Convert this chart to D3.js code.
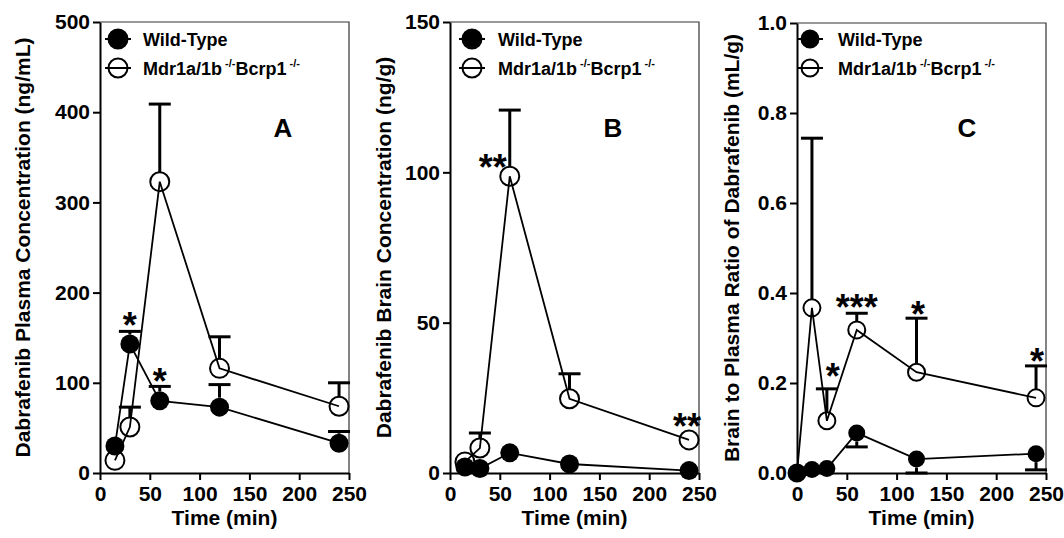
<!DOCTYPE html>
<html>
<head>
  <meta charset="utf-8">
  <title>Dabrafenib PK</title>
  <script src="https://d3js.org/d3.v7.min.js"></script>
  <style>
    body { margin: 0; background: #fff; }
    svg text { font-family: "Liberation Sans", Arial, sans-serif; font-weight: bold; fill: #000; }
    .axis path, .axis line { stroke: #000; stroke-width: 2px; }
    .axis text { font-size: 21px; }
    .frame { fill: none; stroke: #333; stroke-width: 1.2px; }
    .conn { fill: none; stroke: #000; stroke-width: 1.8px; }
    .err { stroke: #000; stroke-width: 3px; }
  </style>
</head>
<body>
  <svg width="1064" height="538"></svg>
  <script>
    // Times (min)
    const timesAB = [15, 30, 60, 120, 240];
    const timesC = [0, 15, 30, 60, 120, 240];

    // Panel A: plasma concentration (ng/mL)
    const plasmaWT = [30, 143, 80, 73, 33];
    const plasmaWTErr = [5, 14, 16, 25, 13];
    const plasmaKO = [14, 51, 323, 116, 74];
    const plasmaKOErr = [3, 22, 86, 35, 26];

    // Panel B: brain concentration (ng/g)
    const brainWT = [2, 1.5, 6.7, 3, 0.8];
    const brainWTErr = [0.5, 0.5, 1, 0.5, 0.3];
    const brainKO = [3.7, 8.3, 98.7, 24.7, 11];
    const brainKOErr = [1, 5, 22, 8.3, 2];

    // Panel C: brain to plasma ratio (mL/g)
    const ratioWT = [0, 0.008, 0.01, 0.089, 0.031, 0.043];
    const ratioWTErr = [0, 0.002, 0.003, 0.031, 0.031, 0.036];
    const ratioKO = [0, 0.367, 0.116, 0.318, 0.224, 0.167];
    const ratioKOErr = [0, 0.377, 0.071, 0.037, 0.12, 0.071];

    const xTicks = [0, 50, 100, 150, 200, 250];
    const legendLabels = ["Wild-Type", "Mdr1a/1b", "Bcrp1", "-/-"];

    // significance marks: [time, value, text]
    const starsA = [[30, 168, "*"], [60, 106, "*"]];
    const starsB = [[43, 103, "**"], [238, 17, "**"]];
    const starsC = [[36, 0.224, "*"], [60, 0.378, "***"], [121.5, 0.362, "*"], [241, 0.258, "*"]];

    const svg = d3.select("svg");

    const panels = [
      {left: 100, right: 349, top: 22, bottom: 473, yMax: 500, yTicks: [0, 100, 200, 300, 400, 500], fmt: d3.format("d"),
       times: timesAB, wt: plasmaWT, wtErr: plasmaWTErr, ko: plasmaKO, koErr: plasmaKOErr, wtDown: false,
       title: "Dabrafenib Plasma Concentration (ng/mL)", titleX: 22, letter: "A", letterX: 183,
       legX: 18, legTextX: 43, r: 9.5, stars: starsA},
      {left: 450, right: 699, top: 22, bottom: 473, yMax: 150, yTicks: [0, 50, 100, 150], fmt: d3.format("d"),
       times: timesAB, wt: brainWT, wtErr: brainWTErr, ko: brainKO, koErr: brainKOErr, wtDown: false,
       title: "Dabrafenib Brain Concentration (ng/g)", titleX: 383, letter: "B", letterX: 163,
       legX: 22, legTextX: 48, r: 9.5, stars: starsB},
      {left: 797, right: 1046, top: 23, bottom: 473, yMax: 1.0, yTicks: [0, 0.2, 0.4, 0.6, 0.8, 1.0], fmt: d3.format(".1f"),
       times: timesC, wt: ratioWT, wtErr: ratioWTErr, ko: ratioKO, koErr: ratioKOErr, wtDown: true,
       title: "Brain to Plasma Ratio of Dabrafenib (mL/g)", titleX: 731, letter: "C", letterX: 170,
       legX: 13, legTextX: 41, r: 8.5, stars: starsC}
    ];

    panels.forEach(p => {
      const x = d3.scaleLinear().domain([0, 250]).range([p.left, p.right]);
      const y = d3.scaleLinear().domain([0, p.yMax]).range([p.bottom, p.top]);
      const g = svg.append("g");

      // frame top/right
      g.append("path").attr("class", "frame")
        .attr("d", `M${p.left},${p.top}H${p.right}V${p.bottom}`);

      g.append("g").attr("class", "axis")
        .attr("transform", `translate(0,${p.bottom})`)
        .call(d3.axisBottom(x).tickValues(xTicks).tickSize(7).tickSizeOuter(0).tickPadding(5))
        .selectAll("text").attr("dy", "0.75em");

      g.append("g").attr("class", "axis")
        .attr("transform", `translate(${p.left},0)`)
        .call(d3.axisLeft(y).tickValues(p.yTicks).tickFormat(p.fmt).tickSize(7).tickSizeOuter(0).tickPadding(3));

      // axis titles
      g.append("text")
        .attr("transform", `translate(${p.titleX},${(p.top + p.bottom) / 2}) rotate(-90)`)
        .attr("text-anchor", "middle").attr("dominant-baseline", "central")
        .style("font-size", "21px").text(p.title);
      g.append("text")
        .attr("x", (p.left + p.right) / 2).attr("y", 525)
        .attr("text-anchor", "middle").style("font-size", "21px").text("Time (min)");

      const line = d3.line().x((d, i) => x(p.times[i])).y(d => y(d));

      // connecting lines
      g.append("path").attr("class", "conn").attr("d", line(p.ko));
      g.append("path").attr("class", "conn").attr("d", line(p.wt));

      // error bars
      const errBar = (vals, errs, down) => {
        vals.forEach((v, i) => {
          const cx = x(p.times[i]);
          const yEnd = down ? y(Math.max(0, v - errs[i])) : y(v + errs[i]);
          const yStart = down ? y(v) + p.r : y(v) - p.r;
          if (down ? yEnd <= yStart : yEnd >= yStart) return;
          g.append("line").attr("class", "err")
            .attr("x1", cx).attr("x2", cx).attr("y1", yStart).attr("y2", yEnd);
          g.append("line").attr("class", "err")
            .attr("x1", cx - 11).attr("x2", cx + 11).attr("y1", yEnd).attr("y2", yEnd);
        });
      };
      errBar(p.ko, p.koErr, false);
      errBar(p.wt, p.wtErr, p.wtDown);

      // markers
      g.selectAll(".ko").data(p.ko).join("circle")
        .attr("cx", (d, i) => x(p.times[i])).attr("cy", d => y(d)).attr("r", p.r)
        .attr("fill", "none").attr("stroke", "#000").attr("stroke-width", 2);
      g.selectAll(".wt").data(p.wt).join("circle")
        .attr("cx", (d, i) => x(p.times[i])).attr("cy", d => y(d)).attr("r", p.r)
        .attr("fill", "#000");

      // significance stars
      g.selectAll(".star").data(p.stars).join("text")
        .attr("x", d => x(d[0])).attr("y", d => y(d[1]) + 17)
        .attr("text-anchor", "middle").style("font-size", "36px")
        .text(d => d[2]);

      // panel letter
      g.append("text").attr("x", p.left + p.letterX).attr("y", 137)
        .attr("text-anchor", "middle").style("font-size", "26px").text(p.letter);

      // legend
      const lx = p.left + p.legX;
      [39, 68].forEach((ly, k) => {
        g.append("line").attr("x1", lx - 13).attr("x2", lx + 13).attr("y1", ly).attr("y2", ly)
          .attr("stroke", "#000").attr("stroke-width", 2);
        g.append("circle").attr("cx", lx).attr("cy", ly).attr("r", p.r)
          .attr("fill", k === 0 ? "#000" : "none").attr("stroke", "#000").attr("stroke-width", 2);
      });
      g.append("text").attr("x", p.left + p.legTextX).attr("y", 46)
        .style("font-size", "18px").text(legendLabels[0]);
      const t2 = g.append("text").attr("x", p.left + p.legTextX).attr("y", 75).style("font-size", "18px");
      t2.append("tspan").text(legendLabels[1]);
      t2.append("tspan").attr("dy", -8).style("font-size", "11px").text(" " + legendLabels[3]);
      t2.append("tspan").attr("dy", 8).text(legendLabels[2]);
      t2.append("tspan").attr("dy", -8).style("font-size", "11px").text(" " + legendLabels[3]);
    });
  </script>
</body>
</html>
